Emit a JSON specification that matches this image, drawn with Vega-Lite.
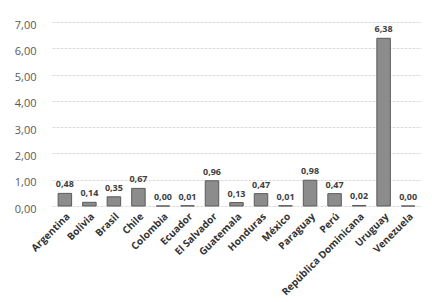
{
  "$schema": "https://vega.github.io/schema/vega-lite/v6.json",
  "autosize": "none",
  "width": 369,
  "height": 184,
  "padding": {"left": 52, "top": 22, "right": 11, "bottom": 96},
  "background": "white",
  "config": {
    "locale": {"number": {"decimal": ",", "thousands": ".", "grouping": [3], "currency": ["", ""]}},
    "view": {"stroke": null},
    "font": "Open Sans"
  },
  "data": {"values": [
    {"pais": "Argentina", "valor": 0.48},
    {"pais": "Bolivia", "valor": 0.14},
    {"pais": "Brasil", "valor": 0.35},
    {"pais": "Chile", "valor": 0.67},
    {"pais": "Colombia", "valor": 0.00},
    {"pais": "Ecuador", "valor": 0.01},
    {"pais": "El Salvador", "valor": 0.96},
    {"pais": "Guatemala", "valor": 0.13},
    {"pais": "Honduras", "valor": 0.47},
    {"pais": "México", "valor": 0.01},
    {"pais": "Paraguay", "valor": 0.98},
    {"pais": "Perú", "valor": 0.47},
    {"pais": "República Dominicana", "valor": 0.02},
    {"pais": "Uruguay", "valor": 6.38},
    {"pais": "Venezuela", "valor": 0.00}
  ]},
  "encoding": {
    "x": {"field": "pais", "type": "nominal", "sort": null, "title": null,
      "scale": {"paddingInner": 0.45, "paddingOuter": 0.25},
      "axis": {"labelAngle": -45, "labelFontWeight": "bold", "labelFontSize": 10, "labelColor": "#333333", "domain": false, "ticks": false, "labelPadding": 5}},
    "y": {"field": "valor", "type": "quantitative", "title": null,
      "scale": {"domain": [0, 7]},
      "axis": {"values": [0, 1, 2, 3, 4, 5, 6, 7], "format": ".2f", "labelFontSize": 11, "labelColor": "#595959", "domain": false, "ticks": false, "labelPadding": 16, "labelBaseline": "top", "labelOffset": -3, "gridColor": "#dcdcdc", "gridDash": [3, 1]}}
  },
  "layer": [
    {"mark": {"type": "bar", "color": "#8c8c8c", "stroke": "#5a5a5a", "strokeWidth": 1}},
    {"mark": {"type": "text", "dy": -9, "fontSize": 9, "fontWeight": "bold", "color": "#404040"},
      "encoding": {"text": {"field": "valor", "type": "quantitative", "format": ".2f"}}}
  ]
}
